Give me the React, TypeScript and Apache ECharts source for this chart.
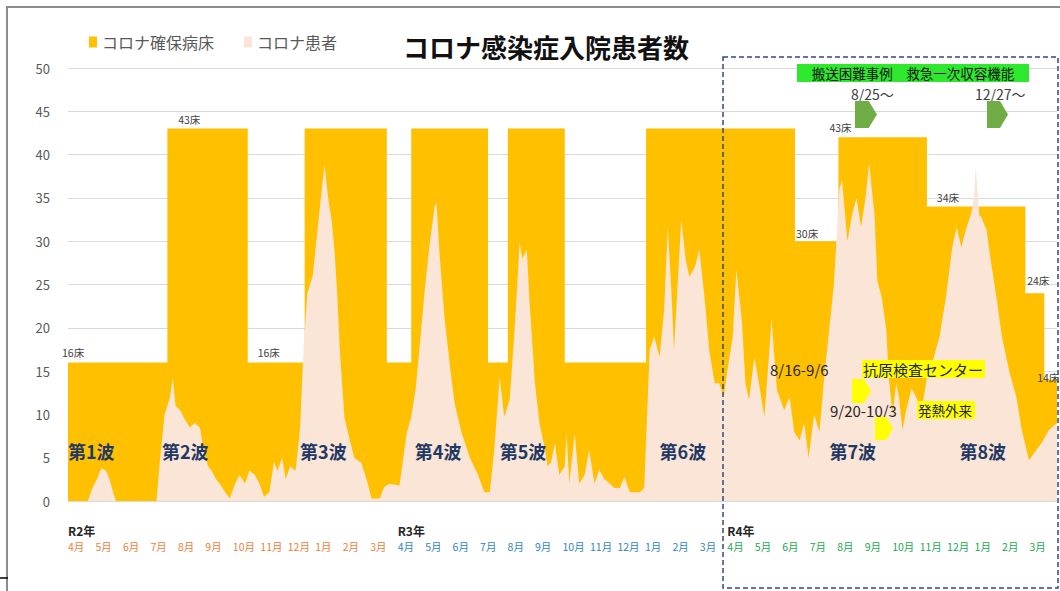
import React, { useEffect, useRef } from "react";
import * as echarts from "echarts";

const FONT = '"Noto Sans CJK JP", "Noto Sans", sans-serif';

// secured beds (step changes)
const bedData: [string, number][] = [
  ["2020-04-01", 16], ["2020-07-20", 43], ["2020-10-17", 16], ["2020-12-19", 43],
  ["2021-03-20", 16], ["2021-04-16", 43], ["2021-07-10", 16], ["2021-08-01", 43],
  ["2021-10-03", 16], ["2022-01-01", 43], ["2022-06-15", 30], ["2022-08-02", 42],
  ["2022-11-08", 34], ["2023-02-25", 24], ["2023-03-18", 14], ["2023-04-01", 14],
];

// inpatients, FY R2
const patientsR2: [string, number][] = [
  ["2020-04-01", 0], ["2020-04-23", 0], ["2020-04-28", 1.5], ["2020-05-03", 2.5], ["2020-05-08", 3.8],
  ["2020-05-13", 3.5], ["2020-05-17", 2.5], ["2020-05-21", 1], ["2020-05-24", 0],
  ["2020-07-08", 0], ["2020-07-12", 5], ["2020-07-17", 10], ["2020-07-23", 12], ["2020-07-26", 14.2], ["2020-07-29", 11],
  ["2020-08-03", 10.5], ["2020-08-08", 9.5], ["2020-08-14", 8.5], ["2020-08-19", 9], ["2020-08-25", 8.5], ["2020-08-29", 6],
  ["2020-09-03", 4], ["2020-09-07", 3.5], ["2020-09-12", 2.5], ["2020-09-16", 2], ["2020-09-22", 1], ["2020-09-27", 0.3],
  ["2020-10-03", 2], ["2020-10-08", 3], ["2020-10-14", 2], ["2020-10-19", 3.5], ["2020-10-25", 3], ["2020-10-30", 2],
  ["2020-11-04", 0.5], ["2020-11-10", 1], ["2020-11-15", 4.5], ["2020-11-19", 3.5], ["2020-11-24", 5], ["2020-11-28", 2.5],
  ["2020-12-03", 4], ["2020-12-09", 3.5], ["2020-12-14", 8.5], ["2020-12-18", 18], ["2020-12-22", 24], ["2020-12-28", 26],
  ["2021-01-03", 32], ["2021-01-07", 36], ["2021-01-10", 38.8], ["2021-01-14", 35], ["2021-01-18", 32.4], ["2021-01-21", 29],
  ["2021-01-24", 24], ["2021-01-27", 17.4], ["2021-02-01", 9.7], ["2021-02-07", 7], ["2021-02-12", 5], ["2021-02-20", 4.4],
  ["2021-02-27", 2], ["2021-03-03", 0.3], ["2021-03-12", 0.3], ["2021-03-17", 1.6], ["2021-03-23", 2],
];

// inpatients, FY R3
const patientsR3: [string, number][] = [
  ["2021-04-03", 1.8], ["2021-04-11", 7.8], ["2021-04-16", 9.7], ["2021-04-21", 13], ["2021-04-25", 17.4],
  ["2021-05-01", 24.4], ["2021-05-06", 29.3], ["2021-05-12", 34], ["2021-05-14", 34.5], ["2021-05-17", 29],
  ["2021-05-23", 21], ["2021-05-29", 15.5], ["2021-06-03", 11.3], ["2021-06-11", 7.8], ["2021-06-20", 5],
  ["2021-06-29", 3], ["2021-07-06", 1], ["2021-07-12", 1], ["2021-07-17", 6], ["2021-07-23", 14.3],
  ["2021-07-28", 9.7], ["2021-08-03", 11.7], ["2021-08-08", 19], ["2021-08-12", 26], ["2021-08-14", 29.8],
  ["2021-08-17", 28], ["2021-08-22", 29], ["2021-08-25", 23], ["2021-08-31", 13.6], ["2021-09-05", 9],
  ["2021-09-11", 6], ["2021-09-14", 4], ["2021-09-18", 4.5], ["2021-09-22", 6.7], ["2021-09-27", 3],
  ["2021-10-03", 4], ["2021-10-05", 7.8], ["2021-10-08", 2], ["2021-10-14", 7.8], ["2021-10-19", 2],
  ["2021-10-25", 3], ["2021-10-30", 5.9], ["2021-11-05", 2], ["2021-11-10", 3.6], ["2021-11-16", 2.5],
  ["2021-11-22", 2], ["2021-11-27", 1.5], ["2021-12-03", 1.5], ["2021-12-08", 2.8], ["2021-12-14", 1],
  ["2021-12-25", 1], ["2021-12-30", 1.5], ["2022-01-03", 12], ["2022-01-05", 17.4], ["2022-01-10", 19],
  ["2022-01-16", 16.6], ["2022-01-21", 22], ["2022-01-25", 31.6], ["2022-01-29", 24.4], ["2022-02-01", 17.4],
  ["2022-02-05", 25], ["2022-02-09", 32.4], ["2022-02-14", 27.8], ["2022-02-18", 25.9], ["2022-02-24", 27],
  ["2022-03-01", 29], ["2022-03-07", 23.2], ["2022-03-12", 17.4], ["2022-03-18", 13.6], ["2022-03-23", 13.6],
  ["2022-03-28", 12],
];

// inpatients, FY R4
const patientsR4: [string, number][] = [
  ["2022-04-01", 15], ["2022-04-07", 19], ["2022-04-11", 26.7], ["2022-04-17", 21], ["2022-04-21", 13.6],
  ["2022-04-25", 11.7], ["2022-05-01", 16.6], ["2022-05-06", 13.6], ["2022-05-12", 9.7], ["2022-05-17", 16.6],
  ["2022-05-20", 21], ["2022-05-23", 16.6], ["2022-05-26", 12.8], ["2022-06-03", 10.5], ["2022-06-09", 12],
  ["2022-06-14", 8], ["2022-06-20", 7], ["2022-06-25", 9], ["2022-06-30", 5], ["2022-07-06", 10],
  ["2022-07-12", 8], ["2022-07-17", 14], ["2022-07-23", 20], ["2022-07-28", 25], ["2022-08-03", 36],
  ["2022-08-06", 37], ["2022-08-12", 30], ["2022-08-17", 33], ["2022-08-22", 35], ["2022-08-27", 31.6],
  ["2022-09-01", 35], ["2022-09-05", 39], ["2022-09-11", 33], ["2022-09-14", 25.5], ["2022-09-19", 23.5],
  ["2022-09-24", 19.7], ["2022-09-27", 14], ["2022-10-01", 10], ["2022-10-05", 13.6], ["2022-10-08", 12],
  ["2022-10-12", 8.2], ["2022-10-16", 10.5], ["2022-10-22", 13], ["2022-10-27", 12], ["2022-11-02", 10.5],
  ["2022-11-07", 13.6], ["2022-11-10", 16], ["2022-11-14", 16], ["2022-11-22", 19], ["2022-11-29", 23.5],
  ["2022-12-06", 29.3], ["2022-12-11", 31.6], ["2022-12-16", 29.3], ["2022-12-21", 31.3], ["2022-12-27", 33.2],
  ["2022-12-30", 35], ["2023-01-01", 38.6], ["2023-01-05", 33], ["2023-01-07", 32.8], ["2023-01-13", 31.3],
  ["2023-01-18", 27.5], ["2023-01-24", 23.5], ["2023-01-30", 19], ["2023-02-07", 15], ["2023-02-15", 12],
  ["2023-02-21", 8.2], ["2023-03-01", 4.7], ["2023-03-09", 5.9], ["2023-03-15", 6.7], ["2023-03-23", 8.2],
  ["2023-04-01", 9],
];

const monthNames = ["4月", "5月", "6月", "7月", "8月", "9月", "10月", "11月", "12月", "1月", "2月", "3月"];
const yearNames = ["R2年", "R3年", "R4年"];
const monthColors = ["#E8823A", "#2E86C1", "#22A852"];

const waveNames = ["第1波", "第2波", "第3波", "第4波", "第5波", "第6波", "第7波", "第8波"];
const waveDates = ["2020-04-01", "2020-07-14", "2020-12-14", "2021-04-20", "2021-07-23", "2022-01-16", "2022-07-23", "2022-12-14"];
const waveLevel = 5.8;

const bedLabelTexts = ["16床", "43床", "16床", "30床", "43床", "34床", "24床", "14床"];
const bedLabelDates = ["2020-04-01", "2020-08-01", "2020-10-28", "2022-06-16", "2022-07-23", "2022-11-19", "2023-02-27", "2023-03-10"];
const bedLabelValues = [17.1, 44, 17.1, 30.9, 43.1, 35, 25.5, 14.3];
const bedLabelShift = [-6, 0, 0, 0, 0, 0, 0, 0];

const monthCategories: string[] = [];
for (let y = 0; y < 3; y++) for (let m = 0; m < 12; m++) monthCategories.push(monthNames[m]);
monthCategories.push("");

const pentagon = (x: number, y: number, w: number, h: number) => [
  [x, y], [x + w * 0.62, y], [x + w, y + h / 2], [x + w * 0.62, y + h], [x, y + h],
];

export default function App() {
  const ref = useRef<HTMLDivElement>(null);
  useEffect(() => {
    document.body.style.margin = "0";
    const chart = echarts.init(ref.current!, undefined, { renderer: "svg" });
    const waveMarks = waveNames.map((n, i) => ({
      coord: [waveDates[i], waveLevel],
      symbol: "circle",
      symbolSize: 0,
      itemStyle: { color: "transparent" },
      label: {
        show: true, position: "right", distance: 0, formatter: n,
        color: "#1F3864", fontSize: 18, fontWeight: "bold", fontFamily: FONT,
      },
    }));
    const bedMarks = bedLabelTexts.map((t, i) => ({
      coord: [bedLabelDates[i], bedLabelValues[i]],
      symbol: "circle",
      symbolSize: 0,
      itemStyle: { color: "transparent" },
      label: {
        show: true, position: "right", distance: 0, offset: [bedLabelShift[i], 0], formatter: t,
        color: "#404040", fontSize: 10.5, fontFamily: FONT,
      },
    }));
    const option: any = {
      animation: false,
      textStyle: { fontFamily: FONT },
      title: {
        text: "コロナ感染症入院患者数", left: 398, top: 28,
        textStyle: { fontSize: 26, fontWeight: "bold", color: "#111111", fontFamily: FONT },
      },
      legend: {
        left: 84, top: 29, icon: "rect", itemWidth: 8, itemHeight: 11, itemGap: 30,
        textStyle: { color: "#595959", fontSize: 16, fontFamily: FONT },
        data: ["コロナ確保病床", "コロナ患者"],
      },
      grid: { left: 68, right: 2, top: 68, bottom: 90 },
      xAxis: [
        { type: "time", min: "2020-04-01", max: "2023-04-01", show: false },
        {
          type: "category", data: monthCategories, boundaryGap: false, position: "bottom",
          axisLine: { show: false }, axisTick: { show: false }, splitLine: { show: false },
          axisLabel: {
            interval: 0, align: "left", margin: 20,
            formatter: (v: string, idx: number) => {
              if (!v) return "";
              const fy = Math.floor(idx / 12);
              const top = idx % 12 === 0 ? `{y|${yearNames[fy]}}` : "{s| }";
              return `${top}\n{m${fy}|${v}}`;
            },
            rich: {
              y: { fontSize: 12, fontWeight: "bold", color: "#262626", lineHeight: 18, fontFamily: FONT },
              s: { fontSize: 12, lineHeight: 18 },
              m0: { fontSize: 10.5, color: monthColors[0], lineHeight: 14, fontFamily: FONT },
              m1: { fontSize: 10.5, color: monthColors[1], lineHeight: 14, fontFamily: FONT },
              m2: { fontSize: 10.5, color: monthColors[2], lineHeight: 14, fontFamily: FONT },
            },
          },
        },
      ],
      yAxis: {
        type: "value", min: 0, max: 50, interval: 5,
        axisLine: { show: false }, axisTick: { show: false },
        axisLabel: { color: "#595959", fontSize: 13, margin: 18 },
        splitLine: { lineStyle: { color: "#D9D9D9", width: 1 } },
      },
      series: [
        {
          name: "コロナ確保病床", type: "line", step: "end", data: bedData,
          showSymbol: false, symbol: "none", silent: true,
          itemStyle: { color: "#FFC000" },
          lineStyle: { width: 0, color: "#FFC000" },
          areaStyle: { color: "#FFC000", opacity: 1 },
        },
        {
          name: "コロナ患者", type: "line",
          data: [...patientsR2, ...patientsR3, ...patientsR4],
          showSymbol: false, symbol: "none", silent: true,
          itemStyle: { color: "#FBE5D6" },
          lineStyle: { width: 0, color: "#FBE5D6" },
          areaStyle: { color: "#FBE5D6", opacity: 1 },
          markPoint: { silent: true, data: [...waveMarks, ...bedMarks] },
        },
      ],
      graphic: [
        { type: "rect", shape: { x: 7, y: 7, width: 1200, height: 800 }, style: { fill: "none", stroke: "#8C8C8C", lineWidth: 2 }, silent: true },
        { type: "line", shape: { x1: 0, y1: 578, x2: 8, y2: 578 }, style: { stroke: "#000000", lineWidth: 1.5 } },
        { type: "rect", shape: { x: 723, y: 57, width: 335, height: 531 }, style: { fill: "none", stroke: "#2F4A7F", lineWidth: 1.5, lineDash: [5, 3] }, z: 10 },
        { type: "rect", shape: { x: 797, y: 64, width: 232, height: 18 }, style: { fill: "#2EE82E" }, z: 10 },
        { type: "text", x: 913, y: 73, style: { text: "搬送困難事例　救急一次収容機能", fontSize: 13.5, fill: "#111111", align: "center", verticalAlign: "middle", fontFamily: FONT }, z: 11 },
        { type: "text", x: 851, y: 94, style: { text: "8/25～", fontSize: 14, fill: "#404040", align: "left", verticalAlign: "middle", fontFamily: FONT }, z: 11 },
        { type: "text", x: 975, y: 94, style: { text: "12/27～", fontSize: 14, fill: "#404040", align: "left", verticalAlign: "middle", fontFamily: FONT }, z: 11 },
        { type: "polygon", shape: { points: pentagon(855, 101, 22, 27) }, style: { fill: "#70AD47" }, z: 11 },
        { type: "polygon", shape: { points: pentagon(987, 101, 21, 27) }, style: { fill: "#70AD47" }, z: 11 },
        { type: "text", x: 770, y: 369, style: { text: "8/16-9/6", fontSize: 15, fill: "#262626", align: "left", verticalAlign: "middle", fontFamily: FONT }, z: 11 },
        { type: "rect", shape: { x: 862, y: 360, width: 123, height: 18 }, style: { fill: "#FFFF00" }, z: 10 },
        { type: "text", x: 863, y: 369, style: { text: "抗原検査センター", fontSize: 15, fill: "#262626", align: "left", verticalAlign: "middle", fontFamily: FONT }, z: 11 },
        { type: "polygon", shape: { points: pentagon(852, 379, 19, 24) }, style: { fill: "#FFFF00" }, z: 11 },
        { type: "text", x: 830, y: 410, style: { text: "9/20-10/3", fontSize: 15, fill: "#262626", align: "left", verticalAlign: "middle", fontFamily: FONT }, z: 11 },
        { type: "rect", shape: { x: 917, y: 401, width: 58, height: 18 }, style: { fill: "#FFFF00" }, z: 10 },
        { type: "text", x: 918, y: 410, style: { text: "発熱外来", fontSize: 13.5, fill: "#262626", align: "left", verticalAlign: "middle", fontFamily: FONT }, z: 11 },
        { type: "polygon", shape: { points: pentagon(875, 417, 18, 23) }, style: { fill: "#FFFF00" }, z: 11 },
      ],
    };
    chart.setOption(option);
    return () => chart.dispose();
  }, []);
  return <div ref={ref} style={{ width: 1060, height: 591 }} />;
}
